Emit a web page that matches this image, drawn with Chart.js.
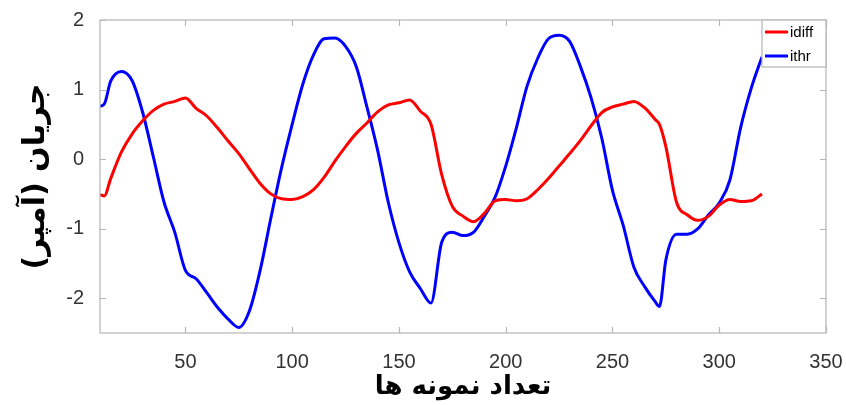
<!DOCTYPE html>
<html>
<head>
<meta charset="utf-8">
<script src="https://cdn.jsdelivr.net/npm/chart.js@4.4.0/dist/chart.umd.min.js"></script>
<style>
html, body { margin: 0; padding: 0; background: #fff; }
</style>
</head>
<body>
<canvas id="myChart" width="846" height="405"></canvas>
<script>
var samples = [10, 12, 15, 20, 25, 30, 35, 40, 45, 50, 55, 60, 65, 70, 75, 80, 85, 90, 95, 100,
    105, 110, 115, 120, 125, 130, 135, 140, 145, 150, 155, 160, 165, 170, 175, 180, 185, 190, 195, 200,
    205, 210, 215, 220, 225, 230, 235, 240, 245, 250, 255, 260, 265, 270, 272, 275, 280, 285, 290, 295,
    300, 305, 310, 315, 320];
var idiff = [-0.51, -0.53, -0.28, 0.10, 0.36, 0.55, 0.70, 0.79, 0.83, 0.88, 0.73, 0.62, 0.45, 0.26, 0.08, -0.14, -0.35, -0.50, -0.57, -0.58,
    -0.54, -0.44, -0.26, -0.03, 0.18, 0.37, 0.52, 0.68, 0.78, 0.81, 0.85, 0.69, 0.50, -0.22, -0.68, -0.82, -0.90, -0.78, -0.60, -0.58,
    -0.60, -0.57, -0.44, -0.28, -0.10, 0.08, 0.27, 0.48, 0.67, 0.75, 0.79, 0.83, 0.74, 0.57, 0.50, 0.18, -0.62, -0.80, -0.88, -0.82,
    -0.66, -0.58, -0.61, -0.60, -0.50];
var ithr = [0.76, 0.79, 1.12, 1.26, 1.13, 0.67, 0.03, -0.62, -1.05, -1.60, -1.72, -1.92, -2.13, -2.30, -2.42, -2.18, -1.60, -0.85, -0.13, 0.50,
    1.08, 1.50, 1.73, 1.74, 1.62, 1.33, 0.75, 0.13, -0.62, -1.20, -1.62, -1.86, -2.07, -1.20, -1.05, -1.10, -1.05, -0.82, -0.55, -0.10,
    0.45, 1.05, 1.45, 1.73, 1.78, 1.69, 1.33, 0.88, 0.30, -0.45, -0.95, -1.55, -1.83, -2.05, -2.12, -1.45, -1.08, -1.08, -1.00, -0.80,
    -0.63, -0.30, 0.45, 1.02, 1.47];
var xTicks = [50, 100, 150, 200, 250, 300, 350];
var yTicks = [-2, -1, 0, 1, 2];
var seriesNames = ["idiff", "ithr"];
var seriesColors = ["#ff0000", "#0000ff"];

// matlab style box, inward ticks and legend in the corner
const frame = {
    id: "frame",
    afterDatasetsDraw(chart) {
        const ctx = chart.ctx
        const a = chart.chartArea
        const x = chart.scales.x
        const y = chart.scales.y
        ctx.save()
        ctx.strokeStyle = "#b5b5b5"
        ctx.lineWidth = 1.2
        ctx.strokeRect(a.left, a.top, a.right - a.left, a.bottom - a.top)
        ctx.beginPath()
        xTicks.forEach(v => {
            const px = Math.round(x.getPixelForValue(v)) + 0.5
            ctx.moveTo(px, a.bottom); ctx.lineTo(px, a.bottom - 6)
            ctx.moveTo(px, a.top); ctx.lineTo(px, a.top + 6)
        })
        yTicks.forEach(v => {
            const py = Math.round(y.getPixelForValue(v)) + 0.5
            ctx.moveTo(a.left, py); ctx.lineTo(a.left + 6, py)
            ctx.moveTo(a.right, py); ctx.lineTo(a.right - 6, py)
        })
        ctx.stroke()

        const w = 64, h = 47
        const bx = a.right - w, by = a.top
        ctx.fillStyle = "#fff"
        ctx.fillRect(bx, by, w, h)
        ctx.strokeRect(bx, by, w, h)
        ctx.font = "15px 'Liberation Sans', Arial, sans-serif"
        ctx.textBaseline = "middle"
        ctx.lineWidth = 3
        seriesNames.forEach((name, i) => {
            const ly = by + 12 + i * 24
            ctx.strokeStyle = seriesColors[i]
            ctx.beginPath()
            ctx.moveTo(bx + 3, ly); ctx.lineTo(bx + 26, ly)
            ctx.stroke()
            ctx.fillStyle = "#000"
            ctx.fillText(name, bx + 28, ly + 1)
        })
        ctx.restore()
    }
}

new Chart("myChart", {
    type: "line",
    data: {
        datasets: [{
            label: seriesNames[0],
            data: samples.map((s, i) => ({x: s, y: idiff[i]})),
            borderColor: seriesColors[0],
            borderWidth: 3,
            pointRadius: 0,
            cubicInterpolationMode: "monotone"
        }, {
            label: seriesNames[1],
            data: samples.map((s, i) => ({x: s, y: ithr[i]})),
            borderColor: seriesColors[1],
            borderWidth: 3,
            pointRadius: 0,
            cubicInterpolationMode: "monotone"
        }]
    },
    options: {
        responsive: false,
        animation: false,
        layout: { padding: { top: 20, right: 20, left: 0, bottom: 0 } },
        plugins: { legend: { display: false }, tooltip: { enabled: false } },
        scales: {
            x: {
                type: "linear",
                min: 10,
                max: 350,
                grid: { display: false },
                border: { display: false },
                afterBuildTicks: axis => { axis.ticks = xTicks.map(v => ({value: v})) },
                afterFit: axis => {
                    axis.height = 72
                    axis.paddingLeft = 0
                    axis.paddingRight = 0
                },
                ticks: {
                    padding: 9,
                    color: "#333",
                    font: { family: "'Liberation Sans', Arial, sans-serif", size: 20 }
                },
                title: {
                    display: true,
                    text: "تعداد نمونه ها",
                    color: "#000",
                    padding: { top: 0, bottom: 2 },
                    font: { family: "'DejaVu Sans', sans-serif", size: 26, weight: "bold" }
                }
            },
            y: {
                min: -2.5,
                max: 2,
                grid: { display: false },
                border: { display: false },
                afterBuildTicks: axis => { axis.ticks = yTicks.map(v => ({value: v})) },
                afterFit: axis => {
                    axis.width = 100
                    axis.paddingTop = 0
                    axis.paddingBottom = 0
                },
                ticks: {
                    padding: 8,
                    color: "#333",
                    font: { family: "'Liberation Sans', Arial, sans-serif", size: 20 }
                },
                title: {
                    display: true,
                    text: "جریان (آمپر)",
                    color: "#000",
                    padding: { top: 18, bottom: 0 },
                    font: { family: "'DejaVu Sans', sans-serif", size: 30, weight: "bold" }
                }
            }
        }
    },
    plugins: [frame]
});
</script>
</body>
</html>
